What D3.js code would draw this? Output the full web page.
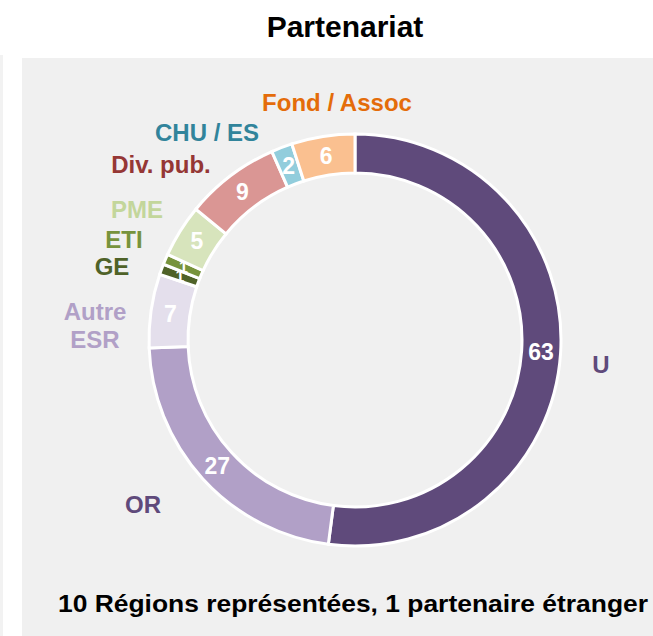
<!DOCTYPE html>
<html>
<head>
<meta charset="utf-8">
<script src="https://cdn.jsdelivr.net/npm/d3@7"></script>
<style>
  body { margin: 0; background: #fff; }
  svg text { font-family: "Liberation Sans", Arial, Helvetica, sans-serif; }
</style>
</head>
<body>
<div id="chart"></div>
<script>
// partner categories, clockwise from the top
const categories = ['U', 'OR', 'Autre ESR', 'GE', 'ETI', 'PME', 'Div. pub.', 'CHU / ES', 'Fond / Assoc'];
const values = [63, 27, 7, 1, 1, 5, 9, 2, 6];
const sliceColors = ['#5f4a7b', '#b1a0c7', '#e4dfec', '#4f6228', '#77933c', '#d7e4bc', '#da9694', '#92cddc', '#fac090'];
const labelColors = ['#5f4a7b', '#5f4a7b', '#b1a0c7', '#4f6228', '#77933c', '#c3d69b', '#953735', '#31849b', '#e46c0a'];
const title = 'Partenariat';
const footer = '10 Régions représentées, 1 partenaire étranger';

const width = 653, height = 636;
const cx = 355, cy = 340;
const outerR = 206, innerR = 167;

const svg = d3.select('#chart').append('svg')
  .attr('width', width)
  .attr('height', height)
  .attr('font-family', '"Liberation Sans", Arial, Helvetica, sans-serif');

// panel background
svg.append('rect').attr('x', 0).attr('y', 55).attr('width', 3).attr('height', height - 55).attr('fill', '#f2f2f2');
svg.append('rect').attr('x', 22).attr('y', 58).attr('width', width - 22).attr('height', height - 58).attr('fill', '#f0f0f0');

svg.append('text')
  .attr('x', 345).attr('y', 37)
  .attr('text-anchor', 'middle')
  .attr('font-size', 30).attr('font-weight', 'bold')
  .attr('fill', '#000')
  .text(title);

const data = categories.map((c, i) => ({ cat: c, value: values[i], color: sliceColors[i], lc: labelColors[i] }));

const pie = d3.pie().value(d => d.value).sort(null);
const arc = d3.arc().innerRadius(innerR).outerRadius(outerR);

const g = svg.append('g').attr('transform', `translate(${cx},${cy})`);
const arcs = pie(data);

g.selectAll('path')
  .data(arcs)
  .enter().append('path')
  .attr('d', arc)
  .attr('fill', d => d.data.color)
  .attr('stroke', '#fff')
  .attr('stroke-width', 3);

g.selectAll('.val')
  .data(arcs)
  .enter().append('text')
  .attr('class', 'val')
  .attr('transform', d => `translate(${arc.centroid(d)})`)
  .attr('text-anchor', 'middle')
  .attr('dy', '0.36em')
  .attr('font-size', d => d.data.value === 1 ? 16 : 23).attr('font-weight', 'bold')
  .attr('fill', '#fff')
  .text(d => d.data.value);

// category label positions
const labelPos = {
  'U': [[601, 373]],
  'OR': [[143, 513]],
  'Autre ESR': [[95, 320], [95, 348]],
  'GE': [[112, 275]],
  'ETI': [[124, 248]],
  'PME': [[137, 218]],
  'Div. pub.': [[161, 173]],
  'CHU / ES': [[207, 141]],
  'Fond / Assoc': [[337, 111]]
};

data.forEach(d => {
  const parts = d.cat === 'Autre ESR' ? ['Autre', 'ESR'] : [d.cat];
  parts.forEach((p, i) => {
    const [x, y] = labelPos[d.cat][i];
    svg.append('text')
      .attr('x', x).attr('y', y)
      .attr('text-anchor', 'middle')
      .attr('font-size', 24).attr('font-weight', 'bold')
      .attr('fill', d.lc)
      .text(p);
  });
});

svg.append('text')
  .attr('x', 353).attr('y', 612)
  .attr('text-anchor', 'middle')
  .attr('font-size', 24).attr('font-weight', 'bold')
  .attr('textLength', 590).attr('lengthAdjust', 'spacingAndGlyphs')
  .attr('fill', '#000')
  .text(footer);
</script>
</body>
</html>
